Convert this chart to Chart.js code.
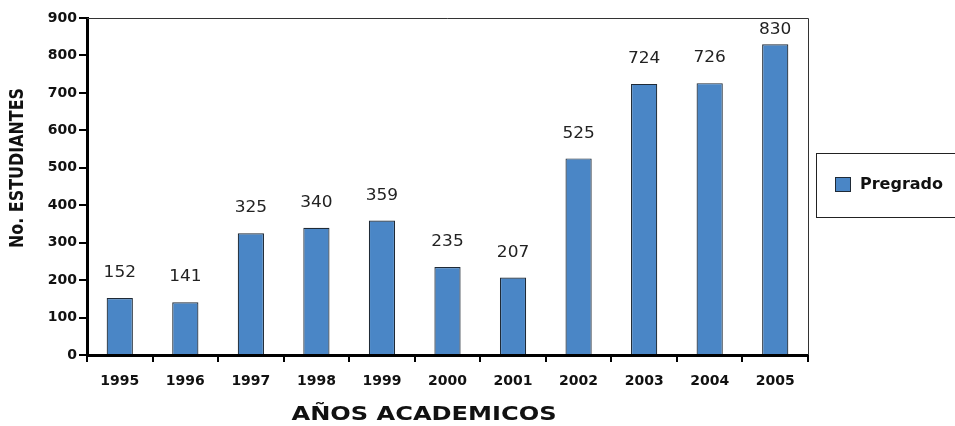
<!DOCTYPE html>
<html>
<head>
<meta charset="utf-8">
<script src="https://cdn.jsdelivr.net/npm/chart.js@4.4.0/dist/chart.umd.min.js"></script>
<style>
  html, body { margin: 0; padding: 0; background: #ffffff; }
  #wrap { width: 955px; height: 426px; position: relative; }
</style>
</head>
<body>
<div id="wrap"><canvas id="c" width="955" height="426"></canvas></div>
<script>
const categories = ['1995', '1996', '1997', '1998', '1999', '2000', '2001', '2002', '2003', '2004', '2005'];
const pregrado = [152, 141, 325, 340, 359, 235, 207, 525, 724, 726, 830];
const seriesName = 'Pregrado';
const xTitle = 'AÑOS ACADEMICOS';
const yTitle = 'No. ESTUDIANTES';
const yMin = 0, yMax = 900, yStep = 100;

const BAR_FILL = '#4A86C6';
const BAR_EDGE = '#1f2a36';

function scaledText(ctx, text, x, y, targetWidth) {
  const w = ctx.measureText(text).width;
  ctx.save();
  ctx.translate(x, y);
  ctx.scale(targetWidth / w, 1);
  ctx.fillText(text, 0, 0);
  ctx.restore();
}

const decor = {
  id: 'decor',
  beforeDatasetsDraw(chart) {
    const { ctx, chartArea: a } = chart;
    ctx.save();
    ctx.strokeStyle = '#333333';
    ctx.lineWidth = 1;
    ctx.beginPath();
    ctx.moveTo(a.left, a.top + 0.5);
    ctx.lineTo(a.right + 0.5, a.top + 0.5);
    ctx.lineTo(a.right + 0.5, a.bottom);
    ctx.stroke();
    ctx.restore();
  },
  afterDatasetsDraw(chart) {
    const { ctx } = chart;
    const meta = chart.getDatasetMeta(0);
    const data = chart.data.datasets[0].data;
    ctx.save();
    ctx.fillStyle = '#222222';
    ctx.font = '16px "DejaVu Sans"';
    ctx.textAlign = 'center';
    ctx.textBaseline = 'middle';
    meta.data.forEach((bar, i) => {
      const y = Math.max(bar.y - 25, 30);
      scaledText(ctx, String(data[i]), bar.x, y, ctx.measureText(String(data[i])).width * 1.06);
    });
    ctx.restore();

    // axis titles
    ctx.save();
    ctx.fillStyle = '#111111';
    ctx.textAlign = 'center';
    ctx.textBaseline = 'middle';
    ctx.font = 'bold 19px "DejaVu Sans"';
    scaledText(ctx, xTitle, 424, 415, 265);
    ctx.restore();

    ctx.save();
    ctx.fillStyle = '#111111';
    ctx.textAlign = 'center';
    ctx.textBaseline = 'middle';
    ctx.font = 'bold 20px "DejaVu Sans"';
    ctx.translate(18, 168);
    ctx.rotate(-Math.PI / 2);
    scaledText(ctx, yTitle, 0, 0, 160);
    ctx.restore();

    // legend box
    ctx.save();
    ctx.strokeStyle = '#222222';
    ctx.lineWidth = 1;
    ctx.strokeRect(816.5, 153.5, 160, 64);
    ctx.fillStyle = BAR_FILL;
    ctx.fillRect(835, 177, 15, 14);
    ctx.strokeStyle = BAR_EDGE;
    ctx.strokeRect(835.5, 177.5, 15, 14);
    ctx.fillStyle = '#111111';
    ctx.font = 'bold 16px "DejaVu Sans"';
    ctx.textAlign = 'left';
    ctx.textBaseline = 'middle';
    ctx.fillText(chart.data.datasets[0].label, 860, 185);
    ctx.restore();
  }
};

new Chart(document.getElementById('c'), {
  type: 'bar',
  data: {
    labels: categories,
    datasets: [{
      label: seriesName,
      data: pregrado,
      backgroundColor: BAR_FILL,
      borderColor: BAR_EDGE,
      borderWidth: 1.2,
      borderSkipped: 'bottom',
      categoryPercentage: 1.0,
      barPercentage: 0.4
    }]
  },
  options: {
    responsive: false,
    animation: false,
    devicePixelRatio: 1,
    layout: { padding: { top: 18, right: 147, left: 0, bottom: 0 } },
    plugins: {
      legend: { display: false },
      tooltip: { enabled: false },
      title: { display: false }
    },
    scales: {
      x: {
        offset: true,
        afterFit(scale) { scale.height = 71; },
        grid: {
          offset: true,
          drawOnChartArea: false,
          drawTicks: true,
          tickLength: 7,
          color: '#000000',
          lineWidth: 2
        },
        border: { display: true, color: '#000000', width: 3 },
        ticks: {
          color: '#111111',
          padding: 11,
          font: { family: '"DejaVu Sans"', size: 14, weight: 'bold' },
          maxRotation: 0
        }
      },
      y: {
        min: yMin,
        max: yMax,
        afterFit(scale) { scale.width = 87; },
        grid: {
          drawOnChartArea: false,
          drawTicks: true,
          tickLength: 8,
          color: '#000000',
          lineWidth: 2
        },
        border: { display: true, color: '#000000', width: 3 },
        ticks: {
          stepSize: yStep,
          color: '#111111',
          padding: 2,
          font: { family: '"DejaVu Sans"', size: 14, weight: 'bold' }
        }
      }
    }
  },
  plugins: [decor]
});
</script>
</body>
</html>
